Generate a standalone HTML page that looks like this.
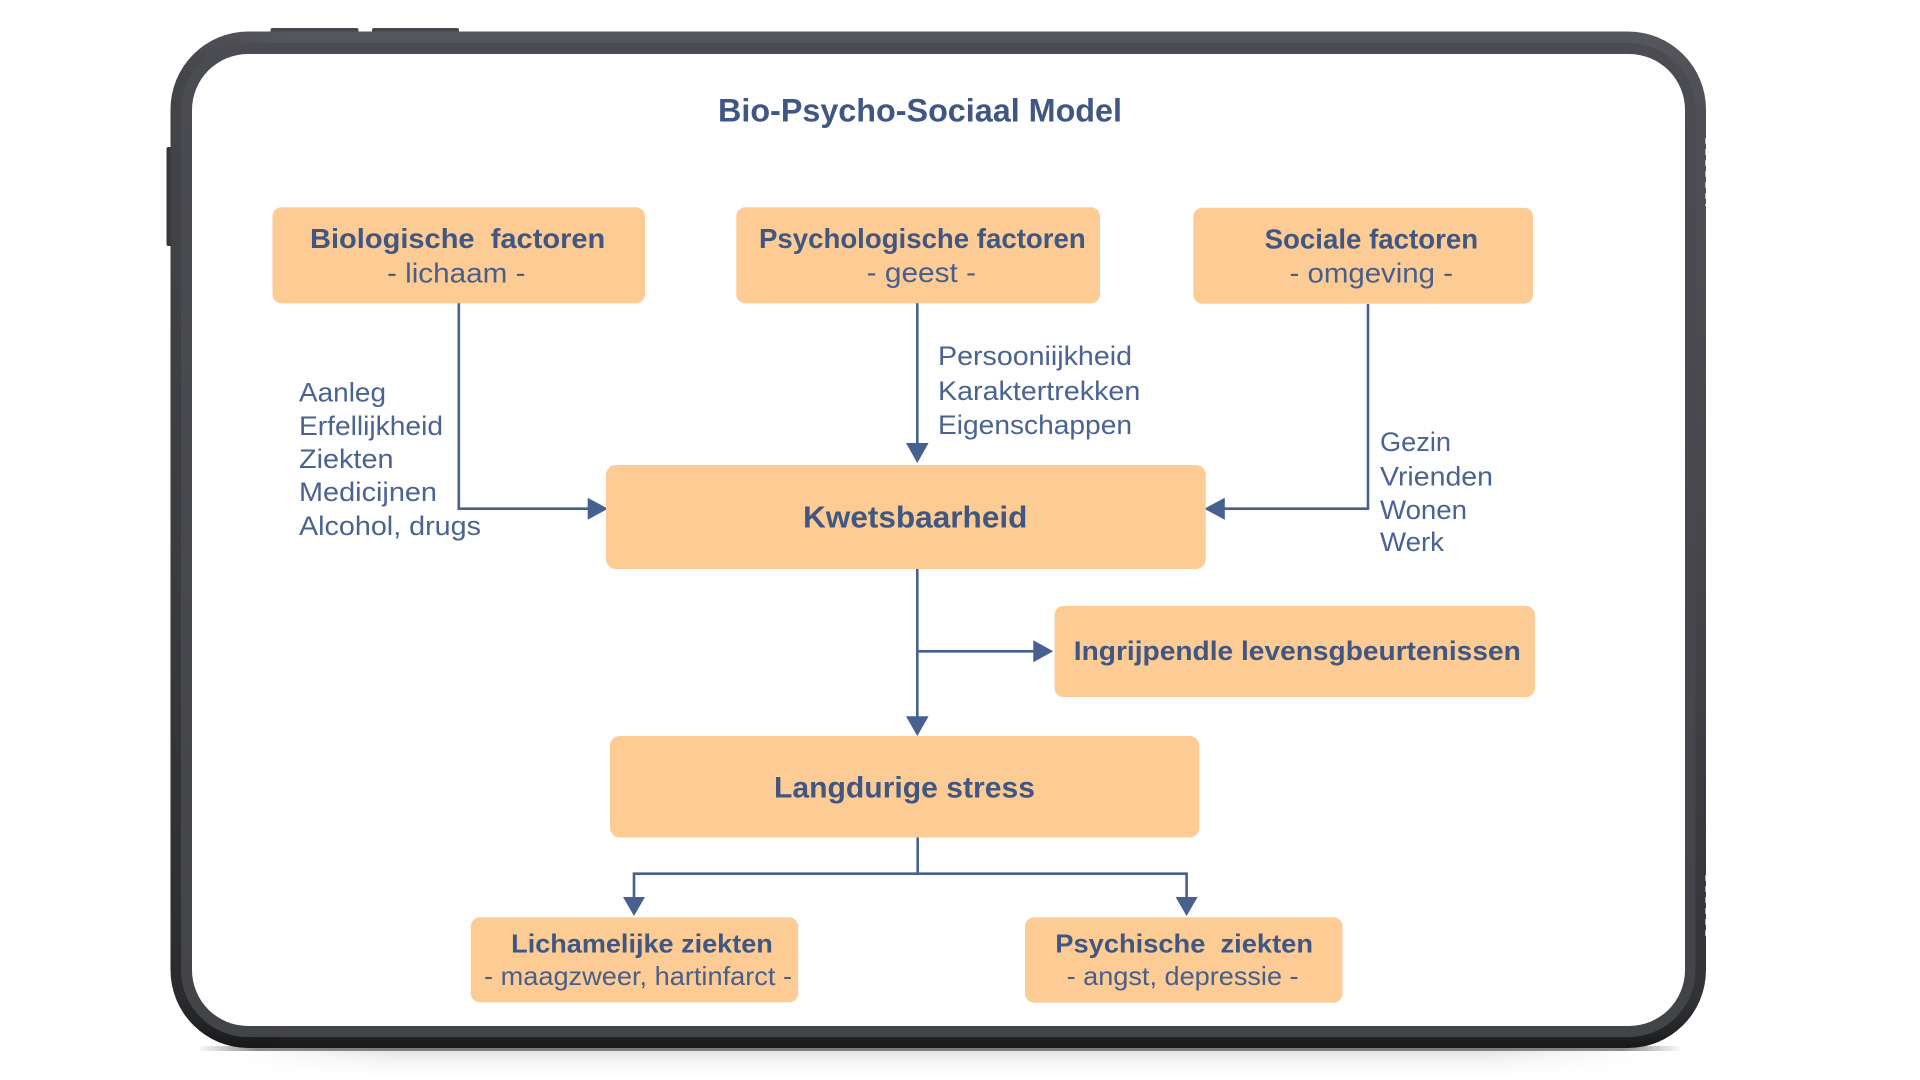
<!DOCTYPE html>
<html lang="nl">
<head>
<meta charset="utf-8">
<title>Bio-Psycho-Sociaal Model</title>
<style>
html,body{margin:0;padding:0;background:#fff;width:1920px;height:1080px;overflow:hidden}
svg{display:block;position:absolute;left:0;top:0}
text{font-family:"Liberation Sans",Arial,sans-serif;white-space:pre}
.h{font-weight:700;fill:#3f5782}
.s{font-weight:400;fill:#485f8b}
.l{font-weight:400;fill:#4a6391;font-size:27px}
.b{fill:#FDCB94}
.c{fill:none;stroke:#46608f;stroke-width:2.6}
.a{fill:#46608f}
</style>
</head>
<body>
<svg width="1920" height="1080" viewBox="0 0 1920 1080" xmlns="http://www.w3.org/2000/svg">
<defs>
<linearGradient id="outer" x1="0" y1="0" x2="0" y2="1">
<stop offset="0" stop-color="#57585d"/>
<stop offset=".04" stop-color="#505156"/>
<stop offset=".5" stop-color="#46474b"/>
<stop offset=".95" stop-color="#323337"/>
<stop offset=".985" stop-color="#232426"/>
<stop offset="1" stop-color="#17181a"/>
</linearGradient>
<linearGradient id="mid" x1="0" y1="0" x2="0" y2="1">
<stop offset="0" stop-color="#4b4c51"/>
<stop offset="1" stop-color="#434448"/>
</linearGradient>
<linearGradient id="side" x1="0" y1="0" x2="1" y2="0">
<stop offset="0" stop-color="#000" stop-opacity=".16"/>
<stop offset=".08" stop-color="#000" stop-opacity="0"/>
</linearGradient>
<linearGradient id="soft" x1="0" y1="0" x2="0" y2="1">
<stop offset="0" stop-color="#000" stop-opacity=".13"/>
<stop offset=".5" stop-color="#000" stop-opacity=".04"/>
<stop offset="1" stop-color="#000" stop-opacity="0"/>
</linearGradient>
<linearGradient id="softH" x1="0" y1="0" x2="1" y2="0">
<stop offset="0" stop-color="#fff" stop-opacity="1"/>
<stop offset=".12" stop-color="#fff" stop-opacity="0"/>
<stop offset=".88" stop-color="#fff" stop-opacity="0"/>
<stop offset="1" stop-color="#fff" stop-opacity="1"/>
</linearGradient>
<linearGradient id="lineH" x1="0" y1="0" x2="1" y2="0">
<stop offset="0" stop-color="#000" stop-opacity="0"/>
<stop offset=".04" stop-color="#000" stop-opacity=".45"/>
<stop offset=".96" stop-color="#000" stop-opacity=".45"/>
<stop offset="1" stop-color="#000" stop-opacity="0"/>
</linearGradient>
</defs>

<!-- shadow -->
<rect x="240" y="1048" width="1400" height="28" fill="url(#soft)"/>
<rect x="240" y="1048" width="1400" height="28" fill="url(#softH)"/>
<rect x="197" y="1046" width="1485" height="5" fill="url(#lineH)"/>

<!-- device buttons -->
<rect x="270.5" y="28" width="88" height="8" rx="2" fill="#47484d"/>
<rect x="372" y="28" width="87" height="8" rx="2" fill="#47484d"/>
<rect x="166.5" y="147" width="8" height="99" rx="2" fill="#36373b"/>

<!-- device frame -->
<rect x="170.5" y="31.5" width="1535.5" height="1016.5" rx="78" ry="78" fill="url(#outer)"/>
<rect x="170.5" y="31.5" width="1535.5" height="1016.5" rx="78" ry="78" fill="url(#side)"/>
<rect x="181" y="43" width="1514.5" height="994" rx="67" ry="67" fill="url(#mid)"/>
<rect x="192" y="54" width="1493" height="972" rx="56" ry="56" fill="#fefefe"/>
<line x1="1705.5" y1="138" x2="1705.5" y2="206" stroke="#fff" stroke-width="1" stroke-dasharray="6 5" opacity=".6"/>
<line x1="1705.5" y1="875" x2="1705.5" y2="936" stroke="#fff" stroke-width="1" stroke-dasharray="6 5" opacity=".6"/>

<!-- title -->
<text class="h" x="718" y="121.5" font-size="32" textLength="404" lengthAdjust="spacingAndGlyphs">Bio-Psycho-Sociaal Model</text>

<!-- connectors -->
<path class="c" d="M458.8 303V508.7H590"/>
<polygon class="a" points="587.7,497.7 608,508.7 587.7,519.7"/>
<path class="c" d="M917.3 303V445"/>
<polygon class="a" points="906,443 928.6,443 917.3,463"/>
<path class="c" d="M1368 304V508.7H1222"/>
<polygon class="a" points="1224.8,497.7 1204.2,508.7 1224.8,519.7"/>
<path class="c" d="M917.3 569V718"/>
<polygon class="a" points="906,716.2 928.6,716.2 917.3,736"/>
<path class="c" d="M917.3 651.3H1035"/>
<polygon class="a" points="1033.3,640.3 1053.2,651.3 1033.3,662.3"/>
<path class="c" d="M917.7 837V873.7"/>
<path class="c" d="M634 899V873.7H1186.6V899"/>
<polygon class="a" points="623,897 645,897 634,916"/>
<polygon class="a" points="1175.6,897 1197.6,897 1186.6,916"/>

<!-- boxes -->
<rect class="b" x="272.5" y="207.3" width="372.5" height="96" rx="9"/>
<rect class="b" x="736.3" y="207.3" width="363.7" height="96" rx="9"/>
<rect class="b" x="1193.3" y="207.7" width="339.7" height="96" rx="9"/>
<rect class="b" x="606" y="465" width="599.8" height="104" rx="10"/>
<rect class="b" x="1054.6" y="606" width="480.3" height="91" rx="9"/>
<rect class="b" x="610" y="736" width="589.3" height="101.5" rx="10"/>
<rect class="b" x="470.8" y="917.3" width="327.4" height="85" rx="9"/>
<rect class="b" x="1025" y="917.3" width="317.5" height="85.3" rx="9"/>

<!-- box labels -->
<text class="h" x="310" y="248" font-size="28" textLength="295.3" lengthAdjust="spacingAndGlyphs">Biologische  factoren</text>
<text class="s" x="387" y="282.5" font-size="28" textLength="138.5" lengthAdjust="spacingAndGlyphs">- lichaam -</text>
<text class="h" x="759" y="248" font-size="28" textLength="326.7" lengthAdjust="spacingAndGlyphs">Psychologische factoren</text>
<text class="s" x="866.7" y="282" font-size="28" textLength="109.3" lengthAdjust="spacingAndGlyphs">- geest -</text>
<text class="h" x="1264.6" y="248.3" font-size="28" textLength="213.6" lengthAdjust="spacingAndGlyphs">Sociale factoren</text>
<text class="s" x="1289.5" y="282.5" font-size="28" textLength="163.5" lengthAdjust="spacingAndGlyphs">- omgeving -</text>
<text class="h" x="803" y="527.5" font-size="31" textLength="224.4" lengthAdjust="spacingAndGlyphs">Kwetsbaarheid</text>
<text class="h" x="1073.8" y="660" font-size="27" textLength="447" lengthAdjust="spacingAndGlyphs">Ingrijpendle levensgbeurtenissen</text>
<text class="h" x="774" y="797.3" font-size="30" textLength="261" lengthAdjust="spacingAndGlyphs">Langdurige stress</text>
<text class="h" x="511.2" y="952.5" font-size="26" textLength="261.6" lengthAdjust="spacingAndGlyphs">Lichamelijke ziekten</text>
<text class="s" x="484" y="985" font-size="26" textLength="308" lengthAdjust="spacingAndGlyphs">- maagzweer, hartinfarct -</text>
<text class="h" x="1055.3" y="952.5" font-size="26" textLength="257.7" lengthAdjust="spacingAndGlyphs">Psychische  ziekten</text>
<text class="s" x="1066.6" y="985" font-size="26" textLength="232" lengthAdjust="spacingAndGlyphs">- angst, depressie -</text>

<!-- connector labels -->
<text class="l" x="299" y="401.7" textLength="87" lengthAdjust="spacingAndGlyphs">Aanleg</text>
<text class="l" x="299" y="435" textLength="144" lengthAdjust="spacingAndGlyphs">Erfellijkheid</text>
<text class="l" x="299" y="468" textLength="94.5" lengthAdjust="spacingAndGlyphs">Ziekten</text>
<text class="l" x="299" y="501" textLength="138" lengthAdjust="spacingAndGlyphs">Medicijnen</text>
<text class="l" x="299" y="535" textLength="182" lengthAdjust="spacingAndGlyphs">Alcohol, drugs</text>

<text class="l" x="938" y="365" textLength="194" lengthAdjust="spacingAndGlyphs">Persooniijkheid</text>
<text class="l" x="938" y="400" textLength="202.3" lengthAdjust="spacingAndGlyphs">Karaktertrekken</text>
<text class="l" x="938" y="434" textLength="194" lengthAdjust="spacingAndGlyphs">Eigenschappen</text>

<text class="l" x="1380" y="451" textLength="71" lengthAdjust="spacingAndGlyphs">Gezin</text>
<text class="l" x="1380" y="485.7" textLength="113" lengthAdjust="spacingAndGlyphs">Vrienden</text>
<text class="l" x="1380" y="519" textLength="87" lengthAdjust="spacingAndGlyphs">Wonen</text>
<text class="l" x="1380" y="551" textLength="64" lengthAdjust="spacingAndGlyphs">Werk</text>
</svg>
</body>
</html>
